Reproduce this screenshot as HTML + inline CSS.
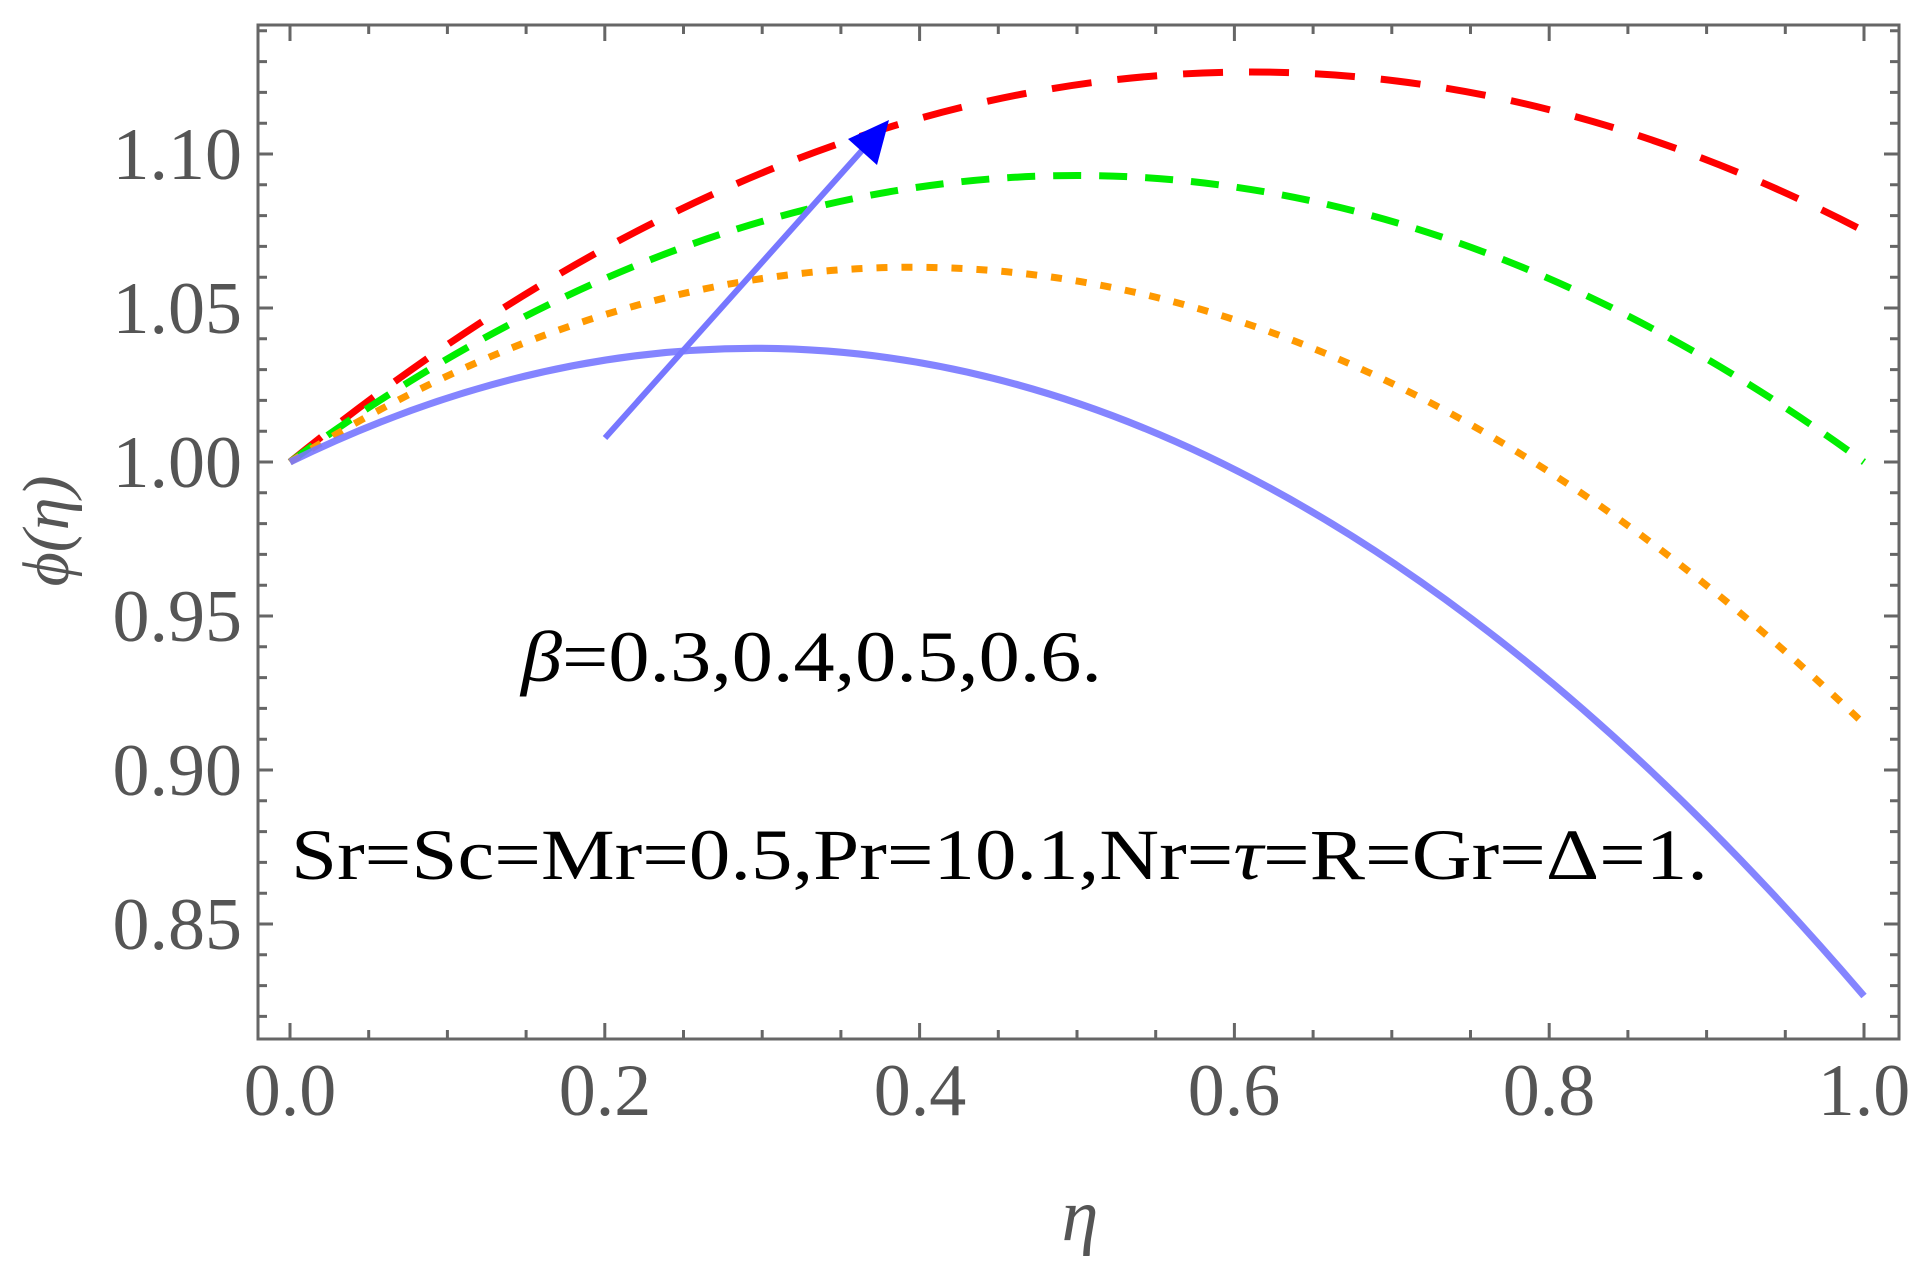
<!DOCTYPE html>
<html><head><meta charset="utf-8"><style>html,body{margin:0;padding:0;background:#fff}svg{display:block}</style></head>
<body>
<svg width="1926" height="1270" viewBox="0 0 1926 1270" xmlns="http://www.w3.org/2000/svg">
<rect width="1926" height="1270" fill="#fff"/>
<g stroke="#666" stroke-width="3" fill="none">
<rect x="258" y="25" width="1641" height="1014"/>
<path d="M290 1039v-16M604.8 1039v-16M919.6 1039v-16M1234.4 1039v-16M1549.2 1039v-16M1864 1039v-16
M290 25v16M604.8 25v16M919.6 25v16M1234.4 25v16M1549.2 25v16M1864 25v16"/>
<path d="M368.7 1039v-9M447.4 1039v-9M526.1 1039v-9M683.5 1039v-9M762.2 1039v-9M840.9 1039v-9M998.3 1039v-9M1077 1039v-9M1155.7 1039v-9M1313.1 1039v-9M1391.8 1039v-9M1470.5 1039v-9M1627.9 1039v-9M1706.6 1039v-9M1785.3 1039v-9
M368.7 25v9M447.4 25v9M526.1 25v9M683.5 25v9M762.2 25v9M840.9 25v9M998.3 25v9M1077 25v9M1155.7 25v9M1313.1 25v9M1391.8 25v9M1470.5 25v9M1627.9 25v9M1706.6 25v9M1785.3 25v9"/>
<path d="M258 924h15M258 770h15M258 616h15M258 462h15M258 308h15M258 154h15
M1899 924h-15M1899 770h-15M1899 616h-15M1899 462h-15M1899 308h-15M1899 154h-15"/>
<path d="M258 1016.4h9M258 985.6h9M258 954.8h9M258 893.2h9M258 862.4h9M258 831.6h9M258 800.8h9M258 739.2h9M258 708.4h9M258 677.6h9M258 646.8h9M258 585.2h9M258 554.4h9M258 523.6h9M258 492.8h9M258 431.2h9M258 400.4h9M258 369.6h9M258 338.8h9M258 277.2h9M258 246.4h9M258 215.6h9M258 184.8h9M258 123.2h9M258 92.4h9M258 61.6h9M258 30.8h9
M1899 1016.4h-9M1899 985.6h-9M1899 954.8h-9M1899 893.2h-9M1899 862.4h-9M1899 831.6h-9M1899 800.8h-9M1899 739.2h-9M1899 708.4h-9M1899 677.6h-9M1899 646.8h-9M1899 585.2h-9M1899 554.4h-9M1899 523.6h-9M1899 492.8h-9M1899 431.2h-9M1899 400.4h-9M1899 369.6h-9M1899 338.8h-9M1899 277.2h-9M1899 246.4h-9M1899 215.6h-9M1899 184.8h-9M1899 123.2h-9M1899 92.4h-9M1899 61.6h-9M1899 30.8h-9"/>
</g>
<g font-family="Liberation Serif, serif" font-size="74" fill="#555" text-anchor="end">
<text x="242" y="949">0.85</text>
<text x="242" y="795">0.90</text>
<text x="242" y="641">0.95</text>
<text x="242" y="487">1.00</text>
<text x="242" y="333">1.05</text>
<text x="242" y="179">1.10</text>
</g>
<g font-family="Liberation Serif, serif" font-size="74" fill="#555" text-anchor="middle">
<text x="290" y="1115">0.0</text>
<text x="605" y="1115">0.2</text>
<text x="920" y="1115">0.4</text>
<text x="1234" y="1115">0.6</text>
<text x="1549" y="1115">0.8</text>
<text x="1864" y="1115">1.0</text>
<text x="1080" y="1240" font-style="italic">η</text>
<text transform="translate(68,531) rotate(-90)" font-style="italic" font-size="66">ϕ(η)</text>
</g>
<g fill="none" stroke-width="7">
<path d="M290 462 Q1077 -177 1864 231" stroke="#ff0000" stroke-dasharray="40 26"/>
<path d="M290 462 Q1077 -111 1864 462" stroke="#00ee00" stroke-dasharray="28 18"/>
<path d="M290 462 Q1077 -31 1864 724" stroke="#ff9900" stroke-dasharray="11 14"/>
<path d="M290 462 Q1077 77 1864 996" stroke="#7777ff" stroke-opacity="0.9"/>
</g>
<line x1="605" y1="438" x2="866" y2="146" stroke="#7777ff" stroke-width="6"/>
<polygon points="889,120 877,165 848,139" fill="#0000ff"/>
<g font-family="Liberation Serif, serif" fill="#000">
<text x="521" y="681" font-size="72" textLength="581" lengthAdjust="spacingAndGlyphs"><tspan font-style="italic">β</tspan>=0.3,0.4,0.5,0.6.</text>
<text x="291" y="879" font-size="72" textLength="1417" lengthAdjust="spacingAndGlyphs">Sr=Sc=Mr=0.5,Pr=10.1,Nr=<tspan font-style="italic">τ</tspan>=R=Gr=Δ=1.</text>
</g>
</svg>
</body></html>
